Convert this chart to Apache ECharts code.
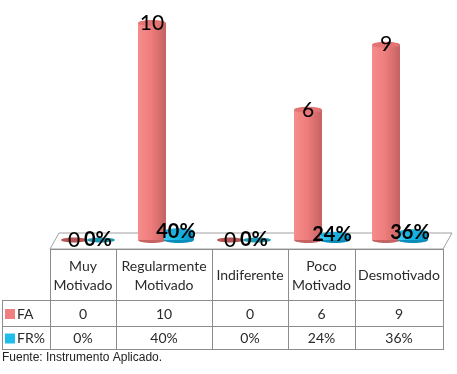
<!DOCTYPE html>
<html><head><meta charset="utf-8">
<script src="https://cdn.jsdelivr.net/npm/echarts@6/dist/echarts.min.js"></script>
<style>html,body{margin:0;padding:0;background:#fff}#c{width:457px;height:374px}</style>
</head><body><div id="c"></div>
<script>
// ---- data ----
const categories = ['Muy Motivado', 'Regularmente Motivado', 'Indiferente', 'Poco Motivado', 'Desmotivado'];
const headerLines = [['Muy', 'Motivado'], ['Regularmente', 'Motivado'], ['Indiferente'], ['Poco', 'Motivado'], ['Desmotivado']];
const seriesNames = ['FA', 'FR%'];
const faValues = [0, 10, 0, 6, 9];
const frPercent = [0, 40, 0, 24, 36];
const sourceNote = 'Fuente: Instrumento Aplicado.';

// ---- layout ----
const colEdges = [50, 116, 212, 288, 355, 443];
const tableLeft = 2, headTop = 249, row1Top = 300, row2Top = 326, tableBottom = 349;
const FONT = 'Lato, "Open Sans", sans-serif';

function cylinder(opts) {
  return function (params, api) {
    const i = api.value(0), v = api.value(1);
    const top = api.coord([i, v]);
    const base = api.coord([i, 0]);
    const w = opts.w, rx = w / 2, ry = 3;
    const cx = top[0] + opts.offset;
    const children = [];
    if (v > 0) {
      children.push({
        type: 'ellipse', shape: { cx: cx, cy: base[1], rx: rx, ry: ry },
        style: { fill: opts.dark }
      });
      children.push({
        type: 'rect', shape: { x: cx - rx, y: top[1], width: w, height: base[1] - top[1] },
        style: { fill: new echarts.graphic.LinearGradient(0, 0, 1, 0, opts.stops) }
      });
      children.push({
        type: 'ellipse', shape: { cx: cx, cy: top[1], rx: rx, ry: ry },
        style: { fill: opts.topColor }
      });
    } else {
      children.push({
        type: 'ellipse', shape: { cx: cx, cy: base[1], rx: rx - 1, ry: 2.5 },
        style: { fill: opts.flat }
      });
    }
    children.push({
      type: 'text', z2: 10,
      style: {
        text: opts.label(params.dataIndex), x: cx + opts.labelDx, y: top[1] + opts.labelDy,
        align: 'center', verticalAlign: 'middle',
        font: opts.fontWeight + ' ' + opts.fontSize + 'px ' + FONT, fill: '#000'
      }
    });
    return { type: 'group', children: children };
  };
}

const graphics = [];
// floor
graphics.push({
  type: 'polygon', z: 0,
  shape: { points: [[50, 249], [59, 233], [452, 233], [443, 249]] },
  style: { fill: '#fff', stroke: '#a0a0a0', lineWidth: 1 }
});
// table lines
const lineStyle = { stroke: '#8c8c8c', lineWidth: 1 };
function hline(x1, x2, y) { graphics.push({ type: 'line', shape: { x1: x1, y1: y + 0.5, x2: x2, y2: y + 0.5 }, style: lineStyle }); }
function vline(x, y1, y2) { graphics.push({ type: 'line', shape: { x1: x + 0.5, y1: y1, x2: x + 0.5, y2: y2 }, style: lineStyle }); }
hline(colEdges[0], colEdges[5], headTop);
hline(tableLeft, colEdges[5], row1Top);
hline(tableLeft, colEdges[5], row2Top);
hline(tableLeft, colEdges[5], tableBottom);
vline(tableLeft, row1Top, tableBottom + 1);
colEdges.forEach(x => vline(x, headTop, tableBottom + 1));
// headers & values
const TF = '14px ' + FONT, TC = '#2a2a2a';
categories.forEach((c, i) => {
  const cx = (colEdges[i] + colEdges[i + 1]) / 2;
  const lines = headerLines[i];
  const midY = (headTop + row1Top) / 2 + 1;
  lines.forEach((t, k) => {
    const y = lines.length === 1 ? midY : midY + (k - 0.5) * 19;
    graphics.push({ type: 'text', style: { text: t, x: cx, y: y, align: 'center', verticalAlign: 'middle', font: TF, fill: TC } });
  });
  graphics.push({ type: 'text', style: { text: String(faValues[i]), x: cx, y: (row1Top + row2Top) / 2 + 1, align: 'center', verticalAlign: 'middle', font: TF, fill: TC } });
  graphics.push({ type: 'text', style: { text: frPercent[i] + '%', x: cx, y: (row2Top + tableBottom) / 2 + 1, align: 'center', verticalAlign: 'middle', font: TF, fill: TC } });
});
// legend keys in table
const keyColors = ['#F08080', '#1EBEEA'];
[row1Top, row2Top].forEach((rt, k) => {
  const rb = k === 0 ? row2Top : tableBottom;
  const cy = (rt + rb) / 2 + 1;
  graphics.push({ type: 'rect', shape: { x: 5, y: cy - 5, width: 10, height: 10 }, style: { fill: keyColors[k] } });
  graphics.push({ type: 'text', style: { text: seriesNames[k], x: 17, y: cy, verticalAlign: 'middle', font: TF, fill: TC } });
});
graphics.push({ type: 'text', style: { text: sourceNote, x: 2, y: 358, verticalAlign: 'middle', font: '12px "Liberation Sans", Arial, sans-serif', fill: '#222' } });

const chart = echarts.init(document.getElementById('c'), null, { renderer: 'canvas' });
chart.setOption({
  animation: false,
  grid: { left: 48, right: 19, top: 23, bottom: 134 },
  xAxis: { type: 'category', data: categories, show: false },
  yAxis: { type: 'value', min: 0, max: 10, show: false },
  graphic: graphics,
  series: [
    {
      name: seriesNames[0], type: 'custom', z: 3,
      data: faValues.map((v, i) => [i, v]),
      renderItem: cylinder({
        w: 28, offset: -13,
        stops: [{ offset: 0, color: '#F58C8B' }, { offset: 0.45, color: '#EF7E7D' }, { offset: 1, color: '#C46362' }],
        dark: '#C46362', topColor: '#E27473', flat: '#B65454',
        label: i => String(faValues[i]), labelDx: 0, labelDy: 0, fontSize: 21, fontWeight: 'normal'
      })
    },
    {
      name: seriesNames[1], type: 'custom', z: 4,
      data: frPercent.map((v, i) => [i, v / 100]),
      renderItem: cylinder({
        w: 30, offset: 14,
        stops: [{ offset: 0, color: '#43CDF2' }, { offset: 0.5, color: '#12B5E6' }, { offset: 1, color: '#0A8DBA' }],
        dark: '#0A8DBA', topColor: '#1AAFDC', flat: '#1B9AB5',
        label: i => frPercent[i] + '%', labelDx: -3, labelDy: 0, fontSize: 20, fontWeight: 'bold'
      })
    }
  ]
});
</script></body></html>
